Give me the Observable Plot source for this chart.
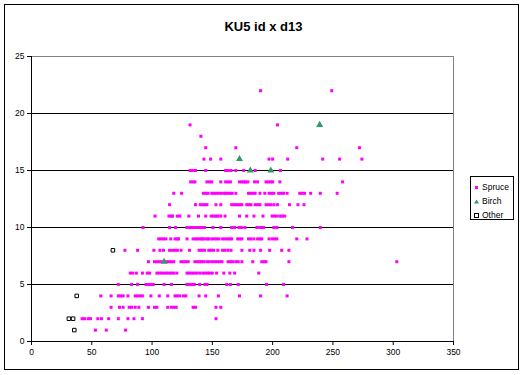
<!DOCTYPE html>
<html>
<head>
<meta charset="utf-8">
<script src="https://cdn.jsdelivr.net/npm/d3@7"></script>
<script src="https://cdn.jsdelivr.net/npm/@observablehq/plot@0.6"></script>
<style>
  html, body { margin: 0; padding: 0; background: #fff; }
  #wrap { position: relative; width: 521px; height: 375px; font-family: Arial, "Liberation Sans", sans-serif; }
  #border { position: absolute; left: 4px; top: 4px; width: 513px; height: 364px; border: 1px solid #000; pointer-events: none; }
  #legend { position: absolute; left: 470px; top: 176px; width: 42px; height: 42px; border: 1px solid #000; background: #fff; font-size: 8.5px; }
  .lrow { position: absolute; left: 0; height: 12px; display: flex; align-items: center; }
  .lrow svg { margin-left: 3px; margin-right: 3px; }
</style>
</head>
<body>
<div id="wrap"><div id="border"></div></div>
<script>
const title = "KU5 id x d13";
const seriesNames = ["Spruce", "Birch", "Other"];
const seriesColors = ["#FF00FF", "#339966", "#000000"];
const xTicks = [0, 50, 100, 150, 200, 250, 300, 350];
const yTicks = [0, 5, 10, 15, 20, 25];
const gridY = [5, 10, 15, 20];

// Spruce: heights (y) and the d13 values (x) read for each height row
const spruceHeights = [1, 2, 3, 4, 5, 6, 7, 8, 9, 10, 11, 12, 13, 14, 15, 16, 17, 18, 19, 22];
const spruceD13 = [
  [53, 62, 78],
  [42, 44, 47, 49, 55, 58, 64, 72, 80, 85, 92, 153],
  [66, 73, 76, 81, 83, 86, 89, 97, 102, 104, 113, 116, 118, 120, 134, 136, 153, 157],
  [57.5, 66, 72, 74, 76, 80, 86, 88, 90, 92, 99, 106, 113, 119, 121, 123, 126, 128, 139, 144.5, 155, 172.5, 190, 212],
  [72, 83, 88, 95, 97, 99, 101, 110, 116, 129, 131, 133, 135, 139.5, 144, 145.5, 162, 165, 171.5, 195, 209],
  [82, 84, 87, 92, 96, 98, 104, 106, 108, 110, 112, 114, 116, 118, 120.5, 129, 131, 133, 135, 137, 139.5, 142, 144, 146, 148, 150, 153.5, 159.5, 164.5, 168.5, 188.5],
  [97, 102, 104, 106, 108, 112, 114, 116, 118, 124, 126, 128, 130, 135.5, 137.5, 139.5, 141, 143, 145.5, 147.5, 150, 152, 154, 156, 158, 163, 165, 167, 169.5, 171.5, 174.5, 183.5, 191, 193, 194.5, 213.5, 303],
  [77.5, 88, 101.5, 106.5, 109.5, 114.5, 117, 119, 121, 124, 131, 139, 141, 143.5, 147, 149, 151, 154.5, 158.5, 160.5, 163, 165.5, 174.5, 181, 184.5, 190, 197.5, 207.5, 213.5],
  [105.5, 107.5, 109.5, 111.5, 115.5, 119, 121, 122, 129, 134, 136, 137.5, 139, 141, 142, 144, 146, 147, 149.5, 151.5, 153.5, 155.5, 158.5, 160.5, 162.5, 164.5, 166, 171, 173, 174.5, 180, 182, 184.5, 187.5, 189.5, 191, 197, 199.5, 201.5, 203.5, 220, 228.5],
  [92.5, 114.5, 119.5, 129, 131.5, 133.5, 135.5, 137.5, 139.5, 141.5, 143.5, 150.5, 157, 166, 168.5, 172, 174, 177, 187, 189.5, 191.5, 192.5, 201, 203.5, 216.5, 239.5],
  [102.5, 114, 116, 117, 121, 123, 130.5, 138.5, 144.5, 149, 151, 153, 154.5, 157, 160.5, 172.5, 178.5, 184.5, 192, 199.5, 201.5, 203.5, 206, 208, 210],
  [114.5, 136, 140, 142, 144, 145.5, 153, 157, 166, 168, 169.5, 171, 173, 174.5, 178.5, 180.5, 182, 185.5, 187.5, 189.5, 194.5, 196.5, 198.5, 201, 204, 214, 221, 226],
  [118, 124.5, 142.5, 144.5, 146.5, 149.5, 151.5, 153.5, 155.5, 157.5, 160, 161, 163, 165, 166.5, 169.5, 180, 182, 184, 185.5, 189.5, 193.5, 197, 199, 201, 205, 207, 209, 212, 222.5, 224.5, 226.5, 231.5, 239.5, 253.5],
  [132, 134, 135.5, 145.5, 147.5, 149.5, 157, 161, 163, 165, 172.5, 174.5, 176, 177.5, 179.5, 185, 187.5, 194.5, 196.5, 198.5, 200, 206, 258],
  [131.5, 133.5, 136, 144.5, 161, 163, 165.5, 169.5, 176, 185.5, 206.5],
  [143, 148.5, 157, 197, 200, 212.5, 241.5, 255.5, 274],
  [144.5, 169.5, 220, 272],
  [140.5],
  [131.5, 204],
  [190, 249]
];

const birchD13 = [110, 172.5, 181.5, 198.5, 239];
const birchH = [7, 16, 15, 15, 19];

const otherD13 = [31, 34.5, 35.5, 37.5, 67.5];
const otherH = [2, 2, 1, 4, 8];

const spruce = spruceHeights.flatMap((h, i) => spruceD13[i].map(d => ({d, h})));
const birch = birchD13.map((d, i) => ({d, h: birchH[i]}));
const other = otherD13.map((d, i) => ({d, h: otherH[i]}));

const chart = Plot.plot({
  width: 521,
  height: 375,
  marginLeft: 31,
  marginRight: 68,
  marginTop: 56,
  marginBottom: 34,
  style: {fontFamily: "Arial, 'Liberation Sans', sans-serif", fontSize: "8.5px", background: "transparent", color: "#000"},
  x: {domain: [0, 350]},
  y: {domain: [0, 25]},
  marks: [
    Plot.ruleY(gridY, {stroke: "#000", strokeWidth: 1}),
    Plot.ruleY([25], {stroke: "#808080", strokeWidth: 1}),
    Plot.ruleX([350], {stroke: "#808080", strokeWidth: 1}),
    Plot.ruleX([0], {stroke: "#000", strokeWidth: 1}),
    Plot.ruleY([0], {stroke: "#000", strokeWidth: 1}),
    Plot.axisX({ticks: xTicks, tickSize: 4, tickPadding: 3, stroke: "#000", label: null, fill: "#000"}),
    Plot.axisY({ticks: yTicks, tickSize: 4, tickPadding: 3, stroke: "#000", label: null, fill: "#000"}),
    Plot.dot(spruce, {x: "d", y: "h", symbol: "square", r: 1.7, fill: seriesColors[0], stroke: null}),
    Plot.dot(birch, {x: "d", y: "h", symbol: "triangle", r: 2.6, fill: seriesColors[1], stroke: null}),
    Plot.dot(other, {x: "d", y: "h", symbol: "square", r: 2.0, fill: "#fff", stroke: seriesColors[2], strokeWidth: 1}),
    Plot.text([title], {frameAnchor: "top", dx: 21, dy: -30, lineAnchor: "middle", fontSize: 13, fontWeight: "bold", fill: "#000"})
  ]
});

const wrap = document.getElementById("wrap");
wrap.insertBefore(chart, wrap.firstChild);

// Legend
const legend = document.createElement("div");
legend.id = "legend";
const rowTops = [4, 18, 32];
seriesNames.forEach((name, i) => {
  const row = document.createElement("div");
  row.className = "lrow";
  row.style.top = rowTops[i] + "px";
  let icon;
  if (i === 0) icon = `<svg width="5" height="5"><rect x="1" y="1" width="3" height="3" fill="${seriesColors[0]}"/></svg>`;
  else if (i === 1) icon = `<svg width="5" height="5"><path d="M2.5 0.5 L5 4.5 L0 4.5 Z" fill="${seriesColors[1]}"/></svg>`;
  else icon = `<svg width="5" height="5"><rect x="0.5" y="0.5" width="4" height="4" fill="#fff" stroke="#000" stroke-width="1"/></svg>`;
  row.innerHTML = icon + `<span>${name}</span>`;
  legend.appendChild(row);
});
wrap.appendChild(legend);
</script>
</body>
</html>
